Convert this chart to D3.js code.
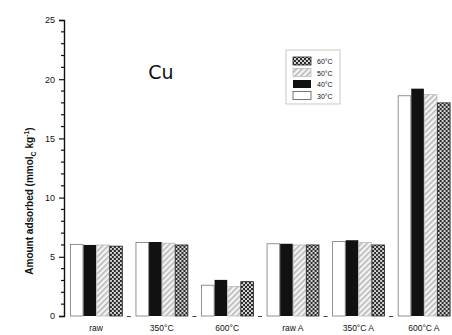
<!DOCTYPE html>
<html><head><meta charset="utf-8">
<script src="https://cdn.jsdelivr.net/npm/d3@7"></script>
<style>body{margin:0;background:#fff}svg{display:block}</style>
</head><body>
<script>
const categories = ["raw", "350°C", "600°C", "raw A", "350°C A", "600°C A"];
const seriesNames = ["30°C", "40°C", "50°C", "60°C"];
const s30 = [6.05, 6.2, 2.6, 6.1, 6.3, 18.6];
const s40 = [6.0, 6.25, 3.05, 6.1, 6.4, 19.2];
const s50 = [6.0, 6.15, 2.5, 6.0, 6.2, 18.7];
const s60 = [5.9, 6.0, 2.9, 6.0, 6.0, 18.0];
const yTicks = [0, 5, 10, 15, 20, 25];
const legendOrder = ["60°C", "50°C", "40°C", "30°C"];

const values = {"30°C": s30, "40°C": s40, "50°C": s50, "60°C": s60};
const W = 452, H = 335;
const svg = d3.select("body").append("svg").attr("width", W).attr("height", H);
const defs = svg.append("defs");
// diagonal hatch
const ph = defs.append("pattern").attr("id", "hatch").attr("patternUnits", "userSpaceOnUse")
  .attr("width", 4).attr("height", 4).attr("patternTransform", "rotate(45)");
ph.append("rect").attr("width", 4).attr("height", 4).attr("fill", "#f4f4f4");
ph.append("rect").attr("width", 1.6).attr("height", 4).attr("fill", "#b8b8b8");
// checker / dots
const pc = defs.append("pattern").attr("id", "check").attr("patternUnits", "userSpaceOnUse")
  .attr("width", 4).attr("height", 4);
pc.append("rect").attr("width", 4).attr("height", 4).attr("fill", "#2a2a2a");
pc.append("circle").attr("cx", 1).attr("cy", 1).attr("r", 1.1).attr("fill", "#e8e8e8");
pc.append("circle").attr("cx", 3).attr("cy", 3).attr("r", 1.1).attr("fill", "#e8e8e8");

const fills = {"30°C": "#fff", "40°C": "#111", "50°C": "url(#hatch)", "60°C": "url(#check)"};
const strokes = {"30°C": "#777", "40°C": "none", "50°C": "#bbb", "60°C": "#222"};

const y = d3.scaleLinear().domain([0, 25]).range([316, 20]);
const x = d3.scaleBand().domain(categories).range([64, 456]).paddingInner(0.2).paddingOuter(0.09);
const xs = d3.scaleBand().domain(seriesNames).range([0, x.bandwidth()]);

const fontAx = "'Liberation Sans Narrow', 'Liberation Sans', Arial, sans-serif";

// bars
categories.forEach((c, i) => {
  const g = svg.append("g").attr("transform", `translate(${x(c)},0)`);
  seriesNames.forEach(s => {
    const v = values[s][i];
    g.append("rect").attr("x", xs(s) + 0.5).attr("y", y(v))
      .attr("width", xs.bandwidth() - 0.5).attr("height", y(0) - y(v))
      .attr("fill", fills[s]).attr("stroke", strokes[s]).attr("stroke-width", 0.8);
  });
  svg.append("text").attr("x", x(c) + x.bandwidth() / 2).attr("y", 331)
    .attr("text-anchor", "middle").attr("font-family", fontAx).attr("font-size", 8.5)
    .attr("fill", "#111").text(c);
});
// small marks between groups
categories.slice(1).forEach(c => {
  const xm = x(c) - x.step() * 0.2 / 2 - 2;
  svg.append("line").attr("x1", xm).attr("x2", xm + 4).attr("y1", 316.5).attr("y2", 316.5)
    .attr("stroke", "#444").attr("stroke-width", 1);
});

// y axis
const yAxis = d3.axisLeft(y).tickValues(yTicks).tickSize(5).tickPadding(4).tickFormat(d3.format("d"));
const ga = svg.append("g").attr("transform", "translate(64,0)").call(yAxis);
ga.select(".domain").attr("stroke", "#111").attr("stroke-width", 1.4);
ga.selectAll(".tick line").attr("stroke", "#111").attr("stroke-width", 1.2);
ga.selectAll(".tick text").attr("font-family", fontAx).attr("font-size", 9).attr("fill", "#111");
const minor = d3.range(0, 26).filter(d => d % 5 !== 0);
svg.append("g").selectAll("line").data(minor).join("line")
  .attr("x1", 61).attr("x2", 64).attr("y1", d => y(d)).attr("y2", d => y(d))
  .attr("stroke", "#111").attr("stroke-width", 1.2);

// y title
const yt = svg.append("text").attr("transform", "translate(33,201) rotate(-90)")
  .attr("text-anchor", "middle").attr("font-family", fontAx).attr("font-size", 10)
  .attr("font-weight", "bold").attr("fill", "#111");
yt.append("tspan").text("Amount adsorbed (mmol");
yt.append("tspan").attr("font-size", 7).attr("dy", 3).text("C");
yt.append("tspan").attr("dy", -3).text(" kg");
yt.append("tspan").attr("font-size", 7).attr("dy", -4).text("-1");
yt.append("tspan").attr("dy", 4).text(")");

// Cu label
svg.append("text").attr("x", 161).attr("y", 79).attr("text-anchor", "middle")
  .attr("font-family", "'DejaVu Sans', sans-serif").attr("font-size", 19).attr("fill", "#111").text("Cu");

// legend
const lg = svg.append("g").attr("transform", "translate(286,50)");
lg.append("rect").attr("width", 54).attr("height", 54).attr("fill", "#fff")
  .attr("stroke", "#bbb").attr("stroke-width", 0.8);
legendOrder.forEach((s, i) => {
  const yy = 7 + i * 11.5;
  lg.append("rect").attr("x", 7).attr("y", yy).attr("width", 18).attr("height", 8)
    .attr("fill", fills[s]).attr("stroke", s === "30°C" ? "#555" : strokes[s]).attr("stroke-width", 0.8);
  lg.append("text").attr("x", 31).attr("y", yy + 7).attr("font-family", fontAx)
    .attr("font-size", 7).attr("fill", "#111").text(s);
});
</script>
</body></html>
